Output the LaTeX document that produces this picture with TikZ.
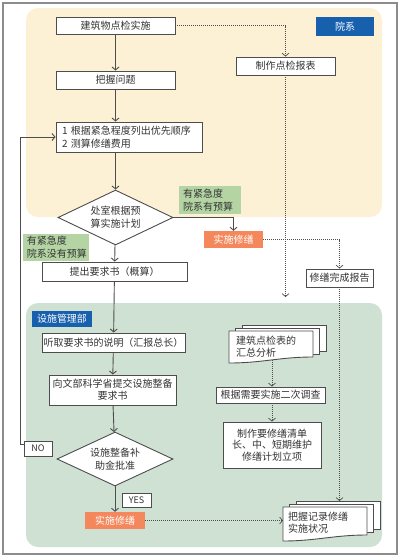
\documentclass[tikz,border=0pt]{standalone}
\usepackage{fontspec}
\setmainfont{Noto Sans CJK SC}
\usetikzlibrary{shapes.geometric,arrows.meta}

\definecolor{ink}{HTML}{333333}
\definecolor{edge}{HTML}{4D4D4D}
\definecolor{cream}{HTML}{FDF1D5}
\definecolor{sage}{HTML}{CFE1D3}
\definecolor{navy}{HTML}{1760AE}
\definecolor{coral}{HTML}{F4875C}
\definecolor{leaf}{HTML}{B4D5A3}

\tikzset{
  txt/.style={font=\fontsize{10}{13}\selectfont,text=ink,inner sep=0pt},
  box/.style={txt,draw=edge,fill=white,line width=.9pt,align=center},
  decide/.style={box,diamond,aspect=2.1},
  note/.style={txt,fill=leaf,align=left,inner xsep=4pt},
  act/.style={txt,fill=coral,text=white,align=center},
  tag/.style={txt,fill=navy,text=white,align=center},
  yn/.style={box,font=\fontsize{9}{10}\selectfont},
  paper/.style={draw=edge,fill=white,line width=.9pt},
  line/.style={draw=edge,line width=.9pt,-{Straight Barb[length=3pt,width=7pt]}},
  dots/.style={line,line width=.7pt,dash pattern=on 1pt off 1pt}
}

% stacked documents: x0, y0 (top left of the front sheet), width, height
\newcommand\stackdoc[4]{%
  \foreach \k in {2,1}
    \draw[paper] ({#1+6.5*\k},{#2-3*\k}) rectangle ({#1+#3+6.5*\k},{#2+#4-6-3*\k});
  \draw[paper] (#1,#2) -- ({#1+#3},#2) -- ({#1+#3},{#2+#4-6})
    .. controls ({#1+0.6*#3},{#2+#4-6}) and ({#1+0.4*#3},{#2+#4}) .. (#1,{#2+#4}) -- cycle;
}

\begin{document}
\begin{tikzpicture}[x=1pt,y=-1pt]
  \useasboundingbox (0,0) rectangle (400,557);
  \draw[draw=gray!90,line width=1.2pt] (3,3) rectangle (397,554);
  % regions
  \fill[cream,rounded corners=12pt] (26,8) rectangle (382,217);
  \fill[sage,rounded corners=12pt] (26,303) rectangle (382,547);
  \node[tag,minimum width=58pt,minimum height=19pt] (dept) at (345,26.5) {院系};
  \node[tag,minimum width=60pt,minimum height=16pt] (office) at (62,319) {设施管理部};

  % left column
  \node[box,minimum width=119pt,minimum height=17pt] (inspect) at (115.5,25.5) {建筑物点检实施};
  \node[box,minimum width=119pt,minimum height=18pt] (problem) at (115.5,80) {把握问题};
  \node[box,align=left,text width=134pt,inner xsep=6pt,minimum height=30pt] (plan) at (129,137)
    {1 根据紧急程度列出优先顺序\\2 测算修缮费用};
  \node[decide,minimum width=115pt,minimum height=55pt] (budget) at (115.5,217.5) {处室根据预\\算实施计划};
  \node[note,text width=54pt,minimum height=28pt] (hasfund) at (210,200) {有紧急度\\院系有预算};
  \node[note,text width=58pt,minimum height=27pt] (nofund) at (56,247.5) {有紧急度\\院系没有预算};
  \node[act,minimum width=59pt,minimum height=17pt] (repairA) at (233.5,239.5) {实施修缮};
  \node[box,minimum width=145pt,minimum height=19pt] (request) at (114.5,271.5) {提出要求书（概算）};
  \node[box,minimum width=143pt,minimum height=19pt] (hear) at (113.5,342.5) {听取要求书的说明（汇报总长）};
  \node[box,minimum width=127pt,minimum height=30pt,font=\fontsize{10}{12}\selectfont] (submit) at (112.5,390)
    {向文部科学省提交设施整备\\要求书};
  \node[decide,minimum width=116pt,minimum height=54pt] (grant) at (115,459) {设施整备补\\助金批准};
  \node[yn,minimum width=28pt,minimum height=15pt] (no) at (38,448.5) {NO};
  \node[yn,minimum width=29pt,minimum height=14pt] (yes) at (136.5,500) {YES};
  \node[act,minimum width=60pt,minimum height=17pt] (repairB) at (115,520.5) {实施修缮};

  % right column
  \node[box,minimum width=99pt,minimum height=18pt] (report) at (285.5,66) {制作点检报表};
  \node[box,minimum width=67pt,minimum height=18pt] (done) at (339.5,278) {修缮完成报告};
  \stackdoc{229}{331}{84}{32}
  \node[txt,align=left,anchor=north west,font=\fontsize{10}{12}\selectfont] (summary) at (236,335.5) {建筑点检表的\\汇总分析};
  \node[box,minimum width=109pt,minimum height=16pt] (survey) at (270.5,395) {根据需要实施二次调查};
  \node[box,minimum width=98pt,minimum height=46pt,font=\fontsize{10}{11.5}\selectfont] (list) at (272,445)
    {制作要修缮清单\\长、中、短期维护\\修缮计划立项};
  \stackdoc{283}{507}{84}{34}
  \node[txt,align=left,anchor=north west,font=\fontsize{10}{12}\selectfont] (record) at (288,511.5) {把握记录修缮\\实施状况};
  \coordinate (reportend) at (285.5,297);
  \coordinate (summaryfoot) at (272,360);
  \coordinate (recordtop) at (339.5,501);
  \coordinate (recordleft) at (283,520.5);

  % solid flow
  \draw[line] (inspect) -- (problem);
  \draw[line] (problem.south) -- (problem.south |- plan.north);
  \draw[line] (budget.north |- plan.south) -- (budget.north);
  \draw[line] (budget) -- (request);
  \draw[line] (budget.east) -| (repairA.north);
  \draw[line] (request) -- (hear);
  \draw[line] (hear) -- (submit);
  \draw[line] (submit) -- (grant);
  \draw[line] (grant) -- (repairB);
  \draw[line] ([yshift=4.5pt]no.west) -- ++(-3,0) |- (plan.west);

  % dotted flow
  \draw[dots] (inspect.east) -| (report.north);
  \draw[dots] (report) -- (reportend);
  \draw[dots] (repairA.east) -| (done.north);
  \draw[dots] (done) -- (recordtop);
  \draw[dots] (summaryfoot) -- (list.north |- survey.north);
  \draw[dots] (list.north |- survey.south) -- (list.north);
  \draw[dots] (repairB) -- (recordleft);
\end{tikzpicture}
\end{document}
